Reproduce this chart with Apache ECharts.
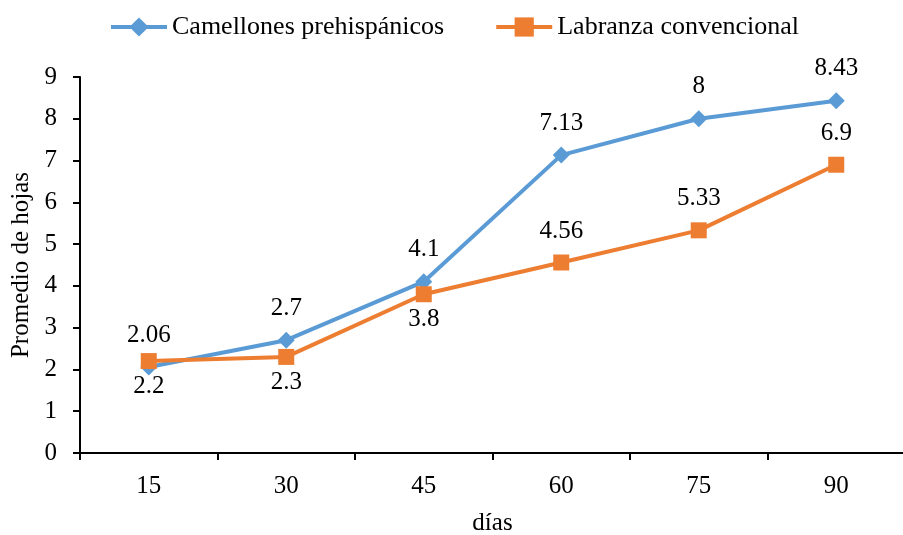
<!DOCTYPE html>
<html><head><meta charset="utf-8">
<script src="https://cdn.jsdelivr.net/npm/echarts@6/dist/echarts.min.js"></script>
<style>html,body{margin:0;padding:0;background:#fff}#c{width:903px;height:535px}</style>
</head><body><div id="c"></div>
<script>
const categories = ['15','30','45','60','75','90'];
const camellones = [2.06, 2.7, 4.1, 7.13, 8, 8.43];
const labranza = [2.2, 2.3, 3.8, 4.56, 5.33, 6.9];
const labranzaLabelPos = ['bottom','bottom','bottom','top','top','top'];

const FONT = '"Liberation Serif"';
const FS = 25;
const chart = echarts.init(document.getElementById('c'));
chart.setOption({
  animation: false,
  textStyle: {fontFamily: FONT, color: '#000'},
  legend: {
    top: 9, left: 104, itemGap: 50, itemWidth: 56, itemHeight: 24, itemTextGap: 4,
    lineStyle: {width: 4},
    textStyle: {fontFamily: FONT, fontSize: 26, color: '#000'},
    data: ['Camellones prehispánicos', 'Labranza convencional']
  },
  grid: {left: 80, right: -2, top: 77, bottom: 82, outerBoundsMode: 'none', containLabel: false},
  xAxis: {
    type: 'category', data: categories,
    name: 'días', nameLocation: 'middle', nameGap: 58,
    nameTextStyle: {fontFamily: FONT, fontSize: FS, color: '#000'},
    axisLine: {lineStyle: {color: '#000', width: 2}},
    axisTick: {show: true, length: 7, lineStyle: {color: '#000', width: 2}},
    axisLabel: {fontFamily: FONT, fontSize: FS, color: '#000', margin: 21}
  },
  yAxis: {
    type: 'value', min: 0, max: 9, interval: 1,
    name: 'Promedio de hojas', nameLocation: 'middle', nameGap: 42, nameRotate: 90,
    nameTextStyle: {fontFamily: FONT, fontSize: FS, color: '#000'},
    axisLine: {show: true, lineStyle: {color: '#000', width: 2}},
    axisTick: {show: true, length: 7, lineStyle: {color: '#000', width: 2}},
    splitLine: {show: false},
    axisLabel: {fontFamily: FONT, fontSize: FS, color: '#000', margin: 23}
  },
  series: [
    {
      name: 'Camellones prehispánicos', type: 'line', data: camellones,
      symbol: 'diamond', symbolSize: 17,
      lineStyle: {color: '#5B9BD5', width: 4},
      itemStyle: {color: '#5B9BD5'},
      label: {show: true, position: 'top', distance: 11, fontFamily: FONT, fontSize: FS, color: '#000'}
    },
    {
      name: 'Labranza convencional', type: 'line', data: labranza.map((v, i) => ({
        value: v,
        label: {position: labranzaLabelPos[i], distance: labranzaLabelPos[i] === 'top' ? 11 : 5}
      })),
      symbol: 'rect', symbolSize: 16,
      lineStyle: {color: '#ED7D31', width: 4},
      itemStyle: {color: '#ED7D31'},
      label: {show: true, fontFamily: FONT, fontSize: FS, color: '#000'}
    }
  ]
});
</script></body></html>
